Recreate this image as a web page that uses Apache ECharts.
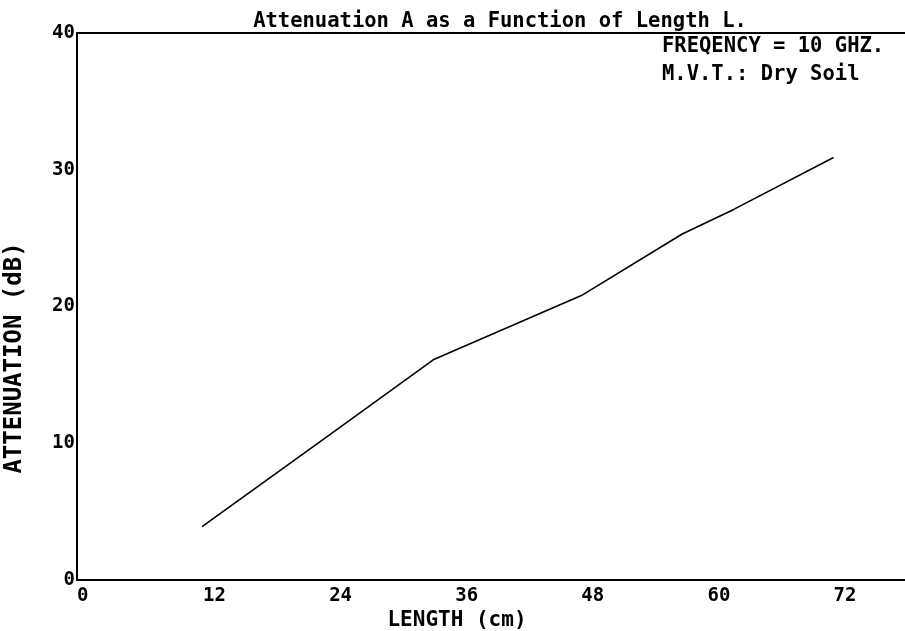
<!DOCTYPE html>
<html>
<head>
    <meta charset="utf-8" />
    <title>Attenuation A as a Function of Length L.</title>
    <script src="https://cdn.jsdelivr.net/npm/echarts@6/dist/echarts.min.js"></script>
    <style>
        html, body { margin: 0; padding: 0; background: #fff; }
        #chart { width: 905px; height: 631px; }
    </style>
</head>
<body>
    <div id="chart"></div>
    <script type="text/javascript">

        // values
        var lengthCm = [11.9, 24, 33.9, 48, 57.6, 62.5, 72];
        var attenuationDb = [3.9, 10.6, 16.1, 20.8, 25.3, 27.1, 30.9];

        var xTicks = [0, 12, 24, 36, 48, 60, 72];
        var yTicks = [0, 10, 20, 30, 40];

        var titleText = 'Attenuation A as a Function of Length L.';
        var noteLines = ['FREQENCY = 10 GHZ.', 'M.V.T.: Dry Soil'];
        var xName = 'LENGTH (cm)';
        var yName = 'ATTENUATION (dB)';

        var mono = '"DejaVu Sans Mono", "Liberation Mono", monospace';

        var chart = echarts.init(document.getElementById('chart'));

        var option = {
            animation: false,
            backgroundColor: '#fff',
            grid: { left: 77, top: 33, right: 0, bottom: 51 },
            xAxis: [{
                type: 'value',
                min: 0,
                max: 78.8,
                interval: 12,
                splitLine: { show: false },
                axisTick: { show: false },
                axisLine: { lineStyle: { color: '#000', width: 2 } },
                axisLabel: {
                    color: '#000',
                    fontFamily: mono,
                    fontWeight: 'bold',
                    fontSize: 19,
                    align: 'left',
                    margin: 7,
                    showMaxLabel: false,
                    formatter: function (v) {
                        return xTicks.indexOf(v) >= 0 ? String(v) : '';
                    }
                }
            }, {
                type: 'value',
                position: 'top',
                min: 0,
                max: 78.8,
                splitLine: { show: false },
                axisTick: { show: false },
                axisLabel: { show: false },
                axisLine: { lineStyle: { color: '#000', width: 2 } }
            }],
            yAxis: {
                type: 'value',
                min: 0,
                max: 40,
                interval: 10,
                splitLine: { show: false },
                axisTick: { show: false },
                axisLine: { lineStyle: { color: '#000', width: 2 } },
                axisLabel: {
                    color: '#000',
                    fontFamily: mono,
                    fontWeight: 'bold',
                    fontSize: 19,
                    margin: 2,
                    formatter: function (v) {
                        return yTicks.indexOf(v) >= 0 ? String(v) : '';
                    }
                }
            },
            graphic: [
                {
                    type: 'text', x: 500, y: 22,
                    style: {
                        text: titleText, fill: '#000', textAlign: 'center', textVerticalAlign: 'middle',
                        font: 'bold 20.5px ' + mono
                    }
                },
                {
                    type: 'text', x: 662, y: 47,
                    style: {
                        text: noteLines[0], fill: '#000', textAlign: 'left', textVerticalAlign: 'middle',
                        font: 'bold 20.5px ' + mono
                    }
                },
                {
                    type: 'text', x: 662, y: 75,
                    style: {
                        text: noteLines[1], fill: '#000', textAlign: 'left', textVerticalAlign: 'middle',
                        font: 'bold 20.5px ' + mono
                    }
                },
                {
                    type: 'text', x: 457, y: 621,
                    style: {
                        text: xName, fill: '#000', textAlign: 'center', textVerticalAlign: 'middle',
                        font: 'bold 21px ' + mono
                    }
                },
                {
                    type: 'text', x: 15, y: 358, rotation: Math.PI / 2,
                    style: {
                        text: yName, fill: '#000', textAlign: 'center', textVerticalAlign: 'middle',
                        font: 'bold 24px ' + mono
                    }
                }
            ],
            series: [{
                type: 'line',
                xAxisIndex: 0,
                data: lengthCm.map(function (x, i) { return [x, attenuationDb[i]]; }),
                symbol: 'none',
                lineStyle: { color: '#000', width: 1.6 }
            }]
        };

        chart.setOption(option);

    </script>
</body>
</html>
